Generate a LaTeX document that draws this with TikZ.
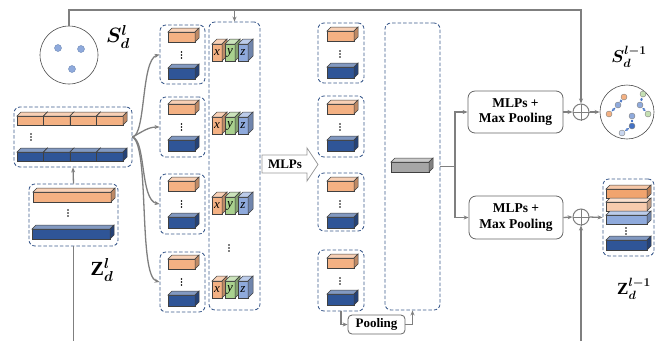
\documentclass[tikz,border=0pt]{standalone}
\usepackage{fontspec}
\setmainfont{Liberation Serif}
\usepackage{amsmath,bm}
\usetikzlibrary{arrows.meta,calc}
\definecolor{dashc}{HTML}{3B5A8C}
\definecolor{ora}{HTML}{F4B183}
\definecolor{dora}{HTML}{F1A46E}
\definecolor{lora}{HTML}{F8CBAD}
\definecolor{blu}{HTML}{2F5597}
\definecolor{grn}{HTML}{A9D18E}
\definecolor{lgrn}{HTML}{C5E0B4}
\definecolor{lblu}{HTML}{8FAADC}
\definecolor{vlblu}{HTML}{C9D6EE}
\definecolor{mblu}{HTML}{4472C4}
\definecolor{gry}{HTML}{A6A6A6}
\definecolor{linec}{HTML}{7F7F7F}
\newcommand\cub[6][4]{%
 \filldraw[fill=#6, draw=black!75, line width=0.5pt] (#2,#3) rectangle (#4,#5);
 \filldraw[fill=#6!60!white, draw=black!75, line width=0.5pt] (#2,#3) -- (#2+#1,#3-#1) -- (#4+#1,#3-#1) -- (#4,#3) -- cycle;
 \filldraw[fill=#6!78!black, draw=black!75, line width=0.5pt] (#4,#3) -- (#4+#1,#3-#1) -- (#4+#1,#5-#1) -- (#4,#5) -- cycle;}
\newcommand\vd[2]{\fill (#1,#2-3) circle (0.8pt) (#1,#2) circle (0.8pt) (#1,#2+3) circle (0.8pt);}
\begin{document}
\begin{tikzpicture}[x=1pt,y=-1pt,
 dbox/.style={draw=dashc, dash pattern=on 3.5pt off 2pt, rounded corners=6pt, line width=0.85pt, inner sep=0pt},
 gline/.style={draw=linec, line width=1.3pt},
 arr/.style={gline, -{Stealth[length=5pt,width=4pt]}},
 rbox/.style={draw=black!60, rounded corners=7pt, line width=0.8pt, fill=white, inner sep=0pt, align=center, font=\bfseries\fontsize{13.5}{15.5}\selectfont},
 oplus/.style={circle, draw=linec, line width=1pt, minimum size=16pt, inner sep=0pt},
 pt/.style={circle, inner sep=0pt, minimum size=6pt, line width=0.4pt, draw=black!50},
 rel/.style={draw=mblu, densely dashed, line width=0.6pt, {Stealth[length=2.5pt,width=2.5pt]}-{Stealth[length=2.5pt,width=2.5pt]}, shorten <=0.5pt, shorten >=0.5pt},
 lett/.style={font=\itshape\fontsize{13}{14}\selectfont, inner sep=0pt}]
\useasboundingbox (0,0) rectangle (655,341);

% ---------- S circle (input points)
\node[circle, draw=black!70, line width=0.6pt, minimum size=58pt, inner sep=0pt] (S) at (69,55) {};
\node[pt, fill=lblu, draw=blu!70, minimum size=7pt] (s1) at (58,48) {};
\node[pt, fill=lblu, draw=blu!70, minimum size=7pt] (s2) at (81,49) {};
\node[pt, fill=lblu, draw=blu!70, minimum size=7pt] (s3) at (72,69) {};
\node (lS) at (118,37) {\fontsize{22}{26}\selectfont$\bm{S_d^l}$};

% ---------- left feature block
\node[dbox, minimum width=118pt, minimum height=60pt] (L) at (73,137) {};
\foreach \a/\b in {17/43.5,43.5/70,70/96.5,96.5/123}{\cub{\a}{116}{\b}{125}{ora}}
\foreach \a/\b in {17/43.5,43.5/70,70/96.5,96.5/123}{\cub{\a}{152}{\b}{161}{blu}}
\vd{31}{137}

% ---------- Z block
\node[dbox, minimum width=89pt, minimum height=62pt] (Zb) at (73.5,215) {};
\cub{33}{192}{111}{202}{ora}
\cub{32}{229}{110}{239}{blu}
\vd{68}{213}
\node (lZ) at (102,270) {\fontsize{20}{24}\selectfont$\mathbf{Z}^{\bm l}_{\bm d}$};

% ---------- column 1 groups
\node[dbox, minimum width=45pt, minimum height=59pt] (a1) at (182.5,54.5) {};
\node[dbox, minimum width=45pt, minimum height=60pt] (a2) at (182.5,127) {};
\node[dbox, minimum width=45pt, minimum height=60pt] (a3) at (182.5,204) {};
\node[dbox, minimum width=45pt, minimum height=60pt] (a4) at (182.5,282) {};
\foreach \t in {25,97,174,252}{
 \cub{168}{\t+7}{195}{\t+17}{ora}
 \cub{168}{\t+43}{195}{\t+54}{blu}
 \vd{181.5}{\t+30}
}

% ---------- xyz column
\node[dbox, minimum width=51pt, minimum height=288pt] (X) at (234.5,166) {};
\foreach \r [count=\i] in {44,117,197,281}{
 \cub[5]{212}{\r}{222}{\r+17}{ora}
 \cub[5]{225}{\r}{235}{\r+17}{grn}
 \cub[5]{238}{\r}{248}{\r+17}{lblu}
 \node[lett] (x\i) at (217,\r+8.5) {x};
 \node[lett] (y\i) at (230,\r+8.5) {y};
 \node[lett] (z\i) at (243,\r+8.5) {z};
}
\vd{229}{248}

% ---------- MLPs arrow
\filldraw[fill=white, draw=black!40, line width=0.8pt] (262,155) -- (307,155) -- (307,148) -- (318,164.5) -- (307,181) -- (307,173) -- (262,173) -- cycle;
\node[font=\bfseries\fontsize{13}{15}\selectfont] (mlp) at (285,164) {MLPs};

% ---------- column 2 groups
\node[dbox, minimum width=46pt, minimum height=60pt] (b1) at (341,53) {};
\node[dbox, minimum width=46pt, minimum height=61pt] (b2) at (341,126.5) {};
\node[dbox, minimum width=46pt, minimum height=58pt] (b3) at (341,202) {};
\node[dbox, minimum width=46pt, minimum height=61pt] (b4) at (341,280.5) {};
\foreach \t in {23,96,173,250}{
 \cub{327}{\t+8}{354}{\t+18}{ora}
 \cub{327}{\t+44}{354}{\t+55}{blu}
 \vd{340}{\t+31}
}

% ---------- pooled column
\node[dbox, minimum width=55pt, minimum height=287pt] (P) at (412.5,166.5) {};
\cub{391}{162}{429}{172}{gry}
\node[rbox, minimum width=57pt, minimum height=19pt, rounded corners=4pt, font=\bfseries\fontsize{13}{15}\selectfont] (pool) at (376.5,324.5) {Pooling};

% ---------- MLP + max pooling boxes
\node[rbox, minimum width=95pt, minimum height=42pt] (M1) at (515.5,112) {MLPs +\\Max Pooling};
\node[rbox, minimum width=94pt, minimum height=43pt] (M2) at (516,217.5) {MLPs +\\Max Pooling};

% ---------- oplus
\node[oplus] (o1) at (581,112) {};
\draw[linec, line width=1pt] (o1.north) -- (o1.south) (o1.west) -- (o1.east);
\node[oplus] (o2) at (581,217) {};
\draw[linec, line width=1pt] (o2.north) -- (o2.south) (o2.west) -- (o2.east);

% ---------- output S circle
\node[circle, draw=black!70, line width=0.6pt, minimum size=54pt, inner sep=0pt] (S2) at (627,112) {};
\node[pt, fill=ora] (d1) at (624,97) {};
\node[pt, fill=lblu] (d2) at (618,105) {};
\node[pt, fill=ora] (d3) at (609,114) {};
\node[pt, fill=lgrn] (d4) at (643,94) {};
\node[pt, fill=lblu] (d5) at (640,105) {};
\node[pt, fill=lgrn] (d6) at (648,114) {};
\node[pt, fill=lblu] (d7) at (632,116) {};
\node[pt, fill=mblu] (d8) at (632,126) {};
\node[pt, fill=vlblu] (d9) at (622,133) {};
\draw[rel] (d1) -- (d2); \draw[rel] (d2) -- (d3);
\draw[rel] (d4) -- (d5); \draw[rel] (d5) -- (d6);
\draw[rel] (d7) -- (d8); \draw[rel] (d8) -- (d9);
\node (lS2) at (629,57) {\fontsize{18}{21}\selectfont$\bm{S_d^{l-1}}$};

% ---------- output Z block
\node[dbox, minimum width=51pt, minimum height=77pt] (Zo) at (628.5,217.5) {};
\cub{606}{189}{647}{198}{dora}
\cub{606}{202}{647}{211}{lora}
\cub{606}{215}{647}{224}{lblu}
\vd{626}{231}
\cub{606}{240}{647}{250}{blu}
\node (lZ2) at (634,289) {\fontsize{17}{20}\selectfont$\mathbf{Z}^{\bm{l-1}}_{\bm d}$};

% ---------- connectors
\coordinate (t1) at (69,10);
\coordinate (t2) at (581,10);
\coordinate (t3) at (234.5,10);
\draw[arr] (S.north) -- (t1) -- (t2) -- (o1.north);
\draw[arr] (t3) -- (X.north);
\draw[arr] (Zb.north) -- (L.south);
\coordinate (bz) at (73.5,341);
\draw[gline] (Zb.south) -- (bz);
\coordinate (bo) at (581,341);
\draw[arr] (bo) -- (o2.south);

\draw[arr] (L.east) .. controls (146,135) and (141,60) .. (a1.west);
\draw[arr] (L.east) .. controls (142,132) and (148,127) .. (a2.west);
\draw[arr] (L.east) .. controls (146,140) and (140,200) .. (a3.west);
\draw[arr] (L.east) .. controls (150,146) and (138,276) .. (a4.west);

\draw[arr] (b4.south) |- (pool.west);
\draw[arr] (pool.east) -| (P.south);

\coordinate (br) at (455,166.5);
\draw[gline] (P.east) -- (br);
\draw[arr] (br) |- (M1.west);
\draw[arr] (br) |- (M2.west);
\draw[arr] (M1.east) -- (o1.west);
\draw[arr] (o1.east) -- (S2.west);
\draw[arr] (M2.east) -- (o2.west);
\draw[arr] (o2.east) -- (Zo.west);
\end{tikzpicture}
\end{document}
